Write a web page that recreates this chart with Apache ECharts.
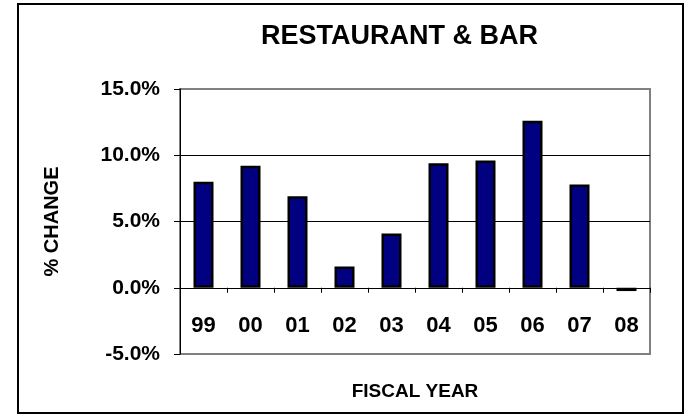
<!DOCTYPE html>
<html>
<head>
<meta charset="utf-8">
<script src="https://cdn.jsdelivr.net/npm/echarts@6/dist/echarts.min.js"></script>
<style>
  html, body { margin: 0; padding: 0; background: #fff; }
  #main { width: 688px; height: 416px; }
</style>
</head>
<body>
<div id="main"></div>
<script>
// fiscal years and % change
var years = ['99', '00', '01', '02', '03', '04', '05', '06', '07', '08'];
var pctChange = [8.0, 9.2, 6.9, 1.6, 4.1, 9.4, 9.6, 12.6, 7.8, -0.25];
var yMin = -5, yMax = 15, yStep = 5;

var font = '"Liberation Sans", Arial, sans-serif';
var chart = echarts.init(document.getElementById('main'));

var option = {
    backgroundColor: '#fff',
    animation: false,
    title: {
        text: 'RESTAURANT & BAR',
        left: 256,
        top: 18,
        textStyle: { fontFamily: font, fontSize: 27, fontWeight: 'bold', color: '#000' }
    },
    graphic: [{
        type: 'rect',
        shape: { x: 18, y: 4, width: 665, height: 409 },
        style: { fill: 'none', stroke: '#000', lineWidth: 2 },
        z: -1
    }],
    grid: {
        left: 180,
        right: 38,
        top: 89,
        bottom: 62,
        outerBoundsMode: 'none',
        containLabel: false,
        show: true,
        borderColor: '#808080',
        borderWidth: 2
    },
    xAxis: {
        type: 'category',
        data: years,
        name: 'FISCAL YEAR',
        nameLocation: 'middle',
        nameGap: 28,
        nameTextStyle: { fontFamily: font, fontSize: 19, fontWeight: 'bold', color: '#000' },
        axisLine: { onZero: true, lineStyle: { color: '#000', width: 1 } },
        axisTick: { show: true, length: 5, lineStyle: { color: '#000' } },
        axisLabel: { margin: -39, fontFamily: font, fontSize: 22, fontWeight: 'bold', color: '#000' },
        splitLine: { show: false }
    },
    yAxis: {
        type: 'value',
        min: yMin,
        max: yMax,
        interval: yStep,
        name: '% CHANGE',
        nameLocation: 'middle',
        nameGap: 118,
        nameTextStyle: { fontFamily: font, fontSize: 20, fontWeight: 'bold', color: '#000' },
        axisLine: { show: true, lineStyle: { color: '#000', width: 1 } },
        axisTick: { show: true, length: 6, lineStyle: { color: '#000' } },
        axisLabel: {
            margin: 20,
            fontFamily: font, fontSize: 21, fontWeight: 'bold', color: '#000',
            formatter: function (v) { return v.toFixed(1) + '%'; }
        },
        splitLine: {
            show: true,
            lineStyle: { color: ['transparent', '#000', '#000', '#000', 'transparent'], width: 1 }
        }
    },
    series: [{
        type: 'bar',
        data: pctChange,
        barWidth: 20,
        itemStyle: { color: '#000080', borderColor: '#000', borderWidth: 2.5 }
    }]
};

chart.setOption(option);
</script>
</body>
</html>
